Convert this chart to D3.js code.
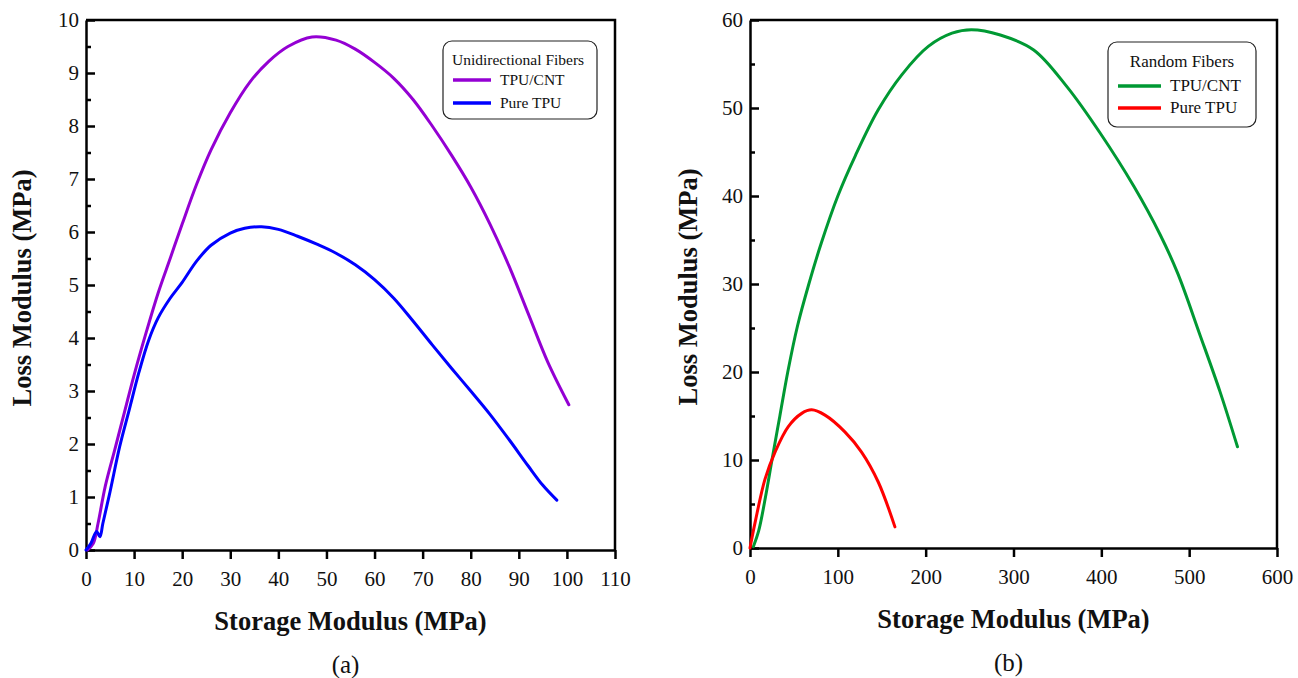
<!DOCTYPE html>
<html>
<head>
<meta charset="utf-8">
<script src="https://cdn.jsdelivr.net/npm/d3@7"></script>
<style>
  body { margin: 0; background: #fff; }
  text { font-family: "Liberation Serif", "Times New Roman", serif; fill: #111; }
</style>
</head>
<body>
<div id="chart-area"></div>
<script>
// ---- data (storage modulus, loss modulus) ----
var uniCntX = [0.3, 1.5, 2.5, 4, 6, 8, 10, 12.5, 15, 17.5, 20, 23, 26, 30, 34, 38, 42, 47, 52, 56, 60, 64, 68, 72, 76, 80, 84, 88, 92, 96, 100.4];
var uniCntY = [0, 0.12, 0.5, 1.2, 1.9, 2.6, 3.3, 4.1, 4.85, 5.5, 6.15, 6.9, 7.55, 8.25, 8.82, 9.22, 9.5, 9.68, 9.62, 9.45, 9.2, 8.9, 8.5, 8.0, 7.45, 6.85, 6.15, 5.35, 4.45, 3.55, 2.74];

var uniTpuX = [0, 1, 2.2, 2.9, 3.5, 5, 7, 9, 11, 13, 15, 17.5, 20, 23, 26, 30, 33, 36.5, 40, 44, 48, 52, 56, 60, 64, 68, 72, 76, 80, 84, 88, 92, 95, 97.9];
var uniTpuY = [0, 0.12, 0.35, 0.25, 0.5, 1.1, 1.95, 2.65, 3.35, 3.95, 4.38, 4.75, 5.05, 5.45, 5.75, 5.98, 6.07, 6.1, 6.05, 5.92, 5.77, 5.6, 5.38, 5.1, 4.75, 4.32, 3.87, 3.43, 3.0, 2.56, 2.08, 1.58, 1.22, 0.94];

var ranCntX = [3.8, 10, 18, 25, 34, 43, 54, 67, 81, 100, 120, 146, 173, 203, 230, 252, 285, 323, 361, 399, 437, 467, 487, 512, 535, 555];
var ranCntY = [0.15, 2, 6, 10, 15, 20, 25.2, 30, 34.6, 40, 44.6, 49.8, 53.8, 57.0, 58.5, 58.9, 58.3, 56.6, 52.4, 47.1, 41.1, 35.6, 31.2, 24.3, 17.8, 11.5];

var ranTpuX = [0, 6, 17, 28.5, 43.6, 58.9, 70.2, 85.4, 108, 127, 146, 165];
var ranTpuY = [0, 3.0, 7.8, 10.9, 13.8, 15.3, 15.7, 15.1, 13.2, 10.9, 7.5, 2.4];

var uniXTicks = d3.range(0, 111, 10);
var uniYTicks = d3.range(0, 11, 1);
var uniYMinor = d3.range(0.5, 10, 1);
var ranXTicks = d3.range(0, 601, 100);
var ranYTicks = d3.range(0, 61, 10);
var ranYMinor = d3.range(5, 60, 10);

function zip(xs, ys) {
    return xs.map(function(x, i) { return [x, ys[i]]; });
}

var svg = d3.select("#chart-area")
    .append("svg")
        .attr("width", 1298)
        .attr("height", 678);

function drawPanel(opt) {
    var width = opt.right - opt.left,
        height = opt.bottom - opt.top;

    var g = svg.append("g")
        .attr("transform", "translate(" + opt.left + ", " + opt.top + ")");

    var x = d3.scaleLinear().domain(opt.xDomain).range([0, width]);
    var y = d3.scaleLinear().domain(opt.yDomain).range([height, 0]);

    // frame (top + right)
    g.append("path")
        .attr("d", "M0,0H" + width + "V" + height)
        .attr("fill", "none")
        .attr("stroke", "#000")
        .attr("stroke-width", 2.5);

    // minor y ticks
    g.append("g")
        .attr("class", "y minor")
        .call(d3.axisLeft(y).tickValues(opt.yMinor).tickSizeInner(-5).tickSizeOuter(0).tickFormat(""))
        .call(function(a) { a.select(".domain").remove(); });

    // Y axis
    g.append("g")
        .attr("class", "y axis")
        .call(d3.axisLeft(y).tickValues(opt.yTicks).tickSizeInner(-9).tickSizeOuter(0).tickPadding(7));

    // X axis
    g.append("g")
        .attr("class", "x axis")
        .attr("transform", "translate(0," + height + ")")
        .call(d3.axisBottom(x).tickValues(opt.xTicks).tickSizeInner(9).tickSizeOuter(0).tickPadding(12));

    g.selectAll(".axis .domain").attr("stroke-width", 2.5);
    g.selectAll(".tick line").attr("stroke-width", 2.5);
    g.selectAll(".axis text")
        .attr("font-family", "Liberation Serif")
        .attr("font-size", "21px")
        .attr("fill", "#111");

    var line = d3.line()
        .curve(d3.curveCatmullRom.alpha(0.5))
        .x(function(d) { return x(d[0]); })
        .y(function(d) { return y(d[1]); });

    opt.series.forEach(function(s) {
        g.append("path")
            .datum(s.data)
            .attr("fill", "none")
            .attr("stroke", s.color)
            .attr("stroke-width", 3)
            .attr("stroke-linecap", "round")
            .attr("stroke-linejoin", "round")
            .attr("d", line);
    });

    // X Label
    g.append("text")
        .attr("x", width / 2)
        .attr("y", height + 80)
        .attr("text-anchor", "middle")
        .attr("font-size", "26.5px")
        .attr("font-weight", "bold")
        .text("Storage Modulus (MPa)");

    // Y Label
    g.append("text")
        .attr("transform", "translate(" + opt.yLabelX + "," + (height / 2 + 3) + ") rotate(-90)")
        .attr("text-anchor", "middle")
        .attr("font-size", "26.5px")
        .attr("font-weight", "bold")
        .text("Loss Modulus (MPa)");

    // panel tag
    g.append("text")
        .attr("x", width / 2 - 5)
        .attr("y", height + 123)
        .attr("text-anchor", "middle")
        .attr("font-size", "25px")
        .text(opt.tag);

    // legend
    var L = opt.legend;
    var lg = svg.append("g").attr("transform", "translate(" + L.x + "," + L.y + ")");
    lg.append("rect")
        .attr("width", L.w)
        .attr("height", L.h)
        .attr("rx", 9)
        .attr("fill", "#fff")
        .attr("stroke", "#222")
        .attr("stroke-width", 1.2);
    lg.append("text")
        .attr("x", L.titleX)
        .attr("y", L.titleY)
        .attr("text-anchor", L.titleAnchor)
        .attr("font-size", L.font + "px")
        .text(L.title);
    opt.series.forEach(function(s, i) {
        var yy = L.rowY + i * L.rowGap;
        lg.append("line")
            .attr("x1", L.lineX0).attr("x2", L.lineX1)
            .attr("y1", yy).attr("y2", yy)
            .attr("stroke", s.color)
            .attr("stroke-width", 3.5);
        lg.append("text")
            .attr("x", L.textX)
            .attr("y", yy + 5)
            .attr("font-size", L.font + "px")
            .text(s.name);
    });
}

drawPanel({
    left: 86, right: 615, top: 20, bottom: 550,
    xDomain: [0, 110], yDomain: [0, 10],
    xTicks: uniXTicks, yTicks: uniYTicks, yMinor: uniYMinor,
    yLabelX: -55,
    tag: "(a)",
    series: [
        { name: "TPU/CNT", color: "#9400D3", data: zip(uniCntX, uniCntY) },
        { name: "Pure TPU", color: "#0000FF", data: zip(uniTpuX, uniTpuY) }
    ],
    legend: { x: 443, y: 41, w: 154, h: 78, title: "Unidirectional Fibers",
              titleX: 9, titleY: 24, titleAnchor: "start", font: 15.5,
              rowY: 39, rowGap: 23, lineX0: 10, lineX1: 48, textX: 57 }
});

drawPanel({
    left: 750, right: 1277, top: 20, bottom: 548,
    xDomain: [0, 600], yDomain: [0, 60],
    xTicks: ranXTicks, yTicks: ranYTicks, yMinor: ranYMinor,
    yLabelX: -53,
    tag: "(b)",
    series: [
        { name: "TPU/CNT", color: "#009933", data: zip(ranCntX, ranCntY) },
        { name: "Pure TPU", color: "#FF0000", data: zip(ranTpuX, ranTpuY) }
    ],
    legend: { x: 1108, y: 42, w: 148, h: 85, title: "Random Fibers",
              titleX: 74, titleY: 25, titleAnchor: "middle", font: 17,
              rowY: 44, rowGap: 22, lineX0: 10, lineX1: 53, textX: 62 }
});
</script>
</body>
</html>
